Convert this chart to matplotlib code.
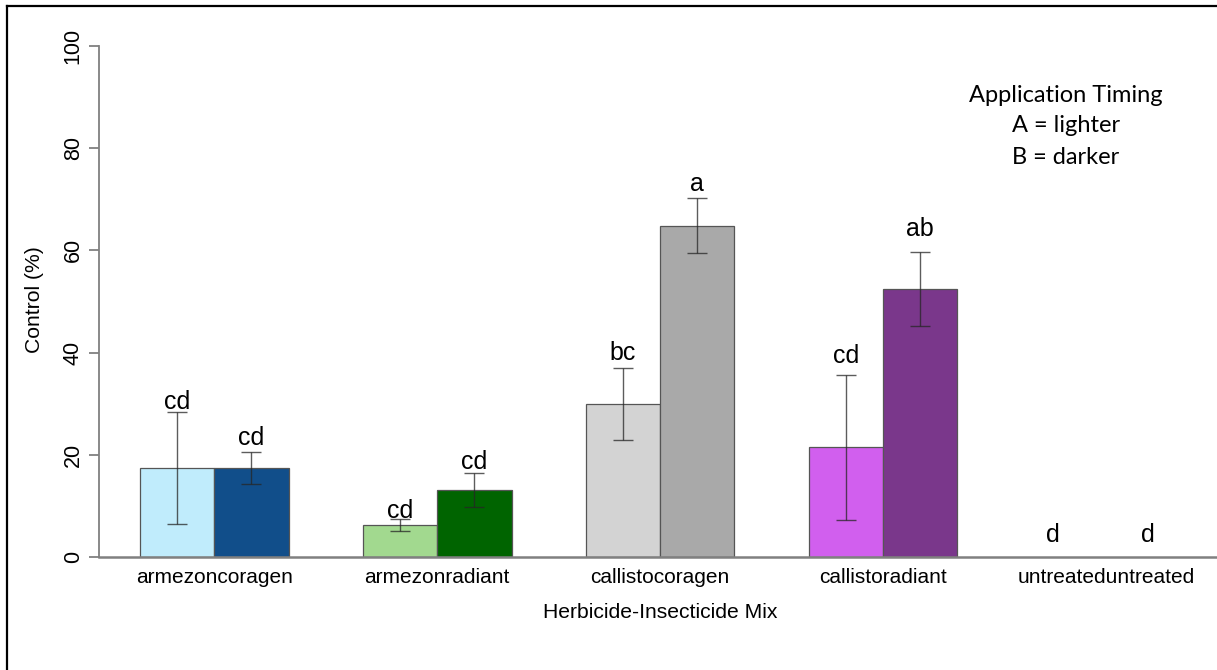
import numpy as np
import matplotlib
matplotlib.use("Agg")
import matplotlib.pyplot as plt
from matplotlib.lines import Line2D

# data
mixes = ["armezoncoragen", "armezonradiant", "callistocoragen", "callistoradiant", "untreateduntreated"]
control_A = [17.4, 6.3, 29.9, 21.5, 0.0]
control_B = [17.4, 13.1, 64.8, 52.4, 0.0]
se_A = [10.9, 1.2, 7.1, 14.2, 0.0]
se_B = [3.2, 3.3, 5.4, 7.2, 0.0]
letters_A = ["cd", "cd", "bc", "cd", "d"]
letters_B = ["cd", "cd", "a", "ab", "d"]

colors_A = ["#C0ECFC", "#A2D98F", "#D3D3D3", "#D15FEE", "#FFFFFF"]
colors_B = ["#114E8A", "#006400", "#A9A9A9", "#7A378B", "#FFFFFF"]

# letter placement (baseline heights, % units) and x nudges
let_y_A = [29.0, 7.6, 38.6, 38.0, 2.9]
let_y_B = [21.9, 17.2, 71.6, 62.8, 2.9]
let_dx_A = [0, 0, 0, 0, -0.21]
let_dx_B = [0, 0, 0, 0, 0.07]

plt.rcParams["font.family"] = ["Liberation Sans", "DejaVu Sans"]

W, H = 1217, 670
fig = plt.figure(figsize=(W / 100, H / 100), dpi=100)

# axes: y 0..100 from px 557 to 46, x from px 99 to right edge
bw = 74.3
x0px = 140
ax = fig.add_axes([99 / W, (H - 557) / H, (W - 99) / W, 511 / H])
ax.set_xlim((99 - x0px) / bw, (W - x0px) / bw)
ax.set_ylim(0, 100)

grp = np.arange(len(mixes)) * 3
xa = grp + 0.5
xb = grp + 1.5
edge = "#555555"
for i in range(len(mixes)):
    if control_A[i] > 0:
        ax.bar(xa[i], control_A[i], width=1, color=colors_A[i], edgecolor=edge, linewidth=0.9)
    if control_B[i] > 0:
        ax.bar(xb[i], control_B[i], width=1, color=colors_B[i], edgecolor=edge, linewidth=0.9)

ecol = (0.15, 0.15, 0.15, 0.75)
for xs, vals, ses in [(xa, control_A, se_A), (xb, control_B, se_B)]:
    for x, v, s in zip(xs, vals, ses):
        if s > 0:
            ax.errorbar(x, v, yerr=s, fmt="none", ecolor=ecol, elinewidth=1.0,
                        capsize=7, capthick=1.0)

for i in range(len(mixes)):
    ax.text(xa[i] + let_dx_A[i], let_y_A[i], letters_A[i], ha="center", va="baseline", fontsize=18)
    ax.text(xb[i] + let_dx_B[i], let_y_B[i], letters_B[i], ha="center", va="baseline", fontsize=18)

# axes styling
for s in ["top", "right"]:
    ax.spines[s].set_visible(False)
ax.spines["left"].set_color("#808080")
ax.spines["bottom"].set_color("#808080")
ax.spines["left"].set_linewidth(1.3)
ax.spines["bottom"].set_linewidth(1.8)
ax.set_yticks([0, 20, 40, 60, 80, 100])
ax.tick_params(axis="y", length=7, color="#808080", width=1.3, labelsize=15.5, pad=4)
for lab in ax.get_yticklabels():
    lab.set_rotation(90)
    lab.set_va("center")
ax.set_xticks(grp + 1)
ax.set_xticklabels(mixes, fontsize=15)
ax.tick_params(axis="x", length=0, pad=8)
ax.set_facecolor("none")

fig.text(35 / W, 1 - 300 / H, "Control (%)", rotation=90, ha="center", va="center", fontsize=15.2)
fig.text(660 / W, 1 - 612 / H, "Herbicide-Insecticide Mix", ha="center", va="center", fontsize=15.2)

# legend-like note
note_font = ["Lato", "DejaVu Sans"]
fig.text(1066 / W, 1 - 95 / H, "Application Timing", ha="center", va="center", fontsize=17, family=note_font)
fig.text(1066 / W, 1 - 126 / H, "A = lighter", ha="center", va="center", fontsize=17, family=note_font)
fig.text(1066 / W, 1 - 157 / H, "B = darker", ha="center", va="center", fontsize=17, family=note_font)

# frame of the screenshot (top and left only)
fig.add_artist(Line2D([7 / W, 1], [1 - 6 / H, 1 - 6 / H], color="black", linewidth=1.6))
fig.add_artist(Line2D([7 / W, 7 / W], [0, 1 - 6 / H], color="black", linewidth=1.6))

fig.savefig("out.png", dpi=100)
